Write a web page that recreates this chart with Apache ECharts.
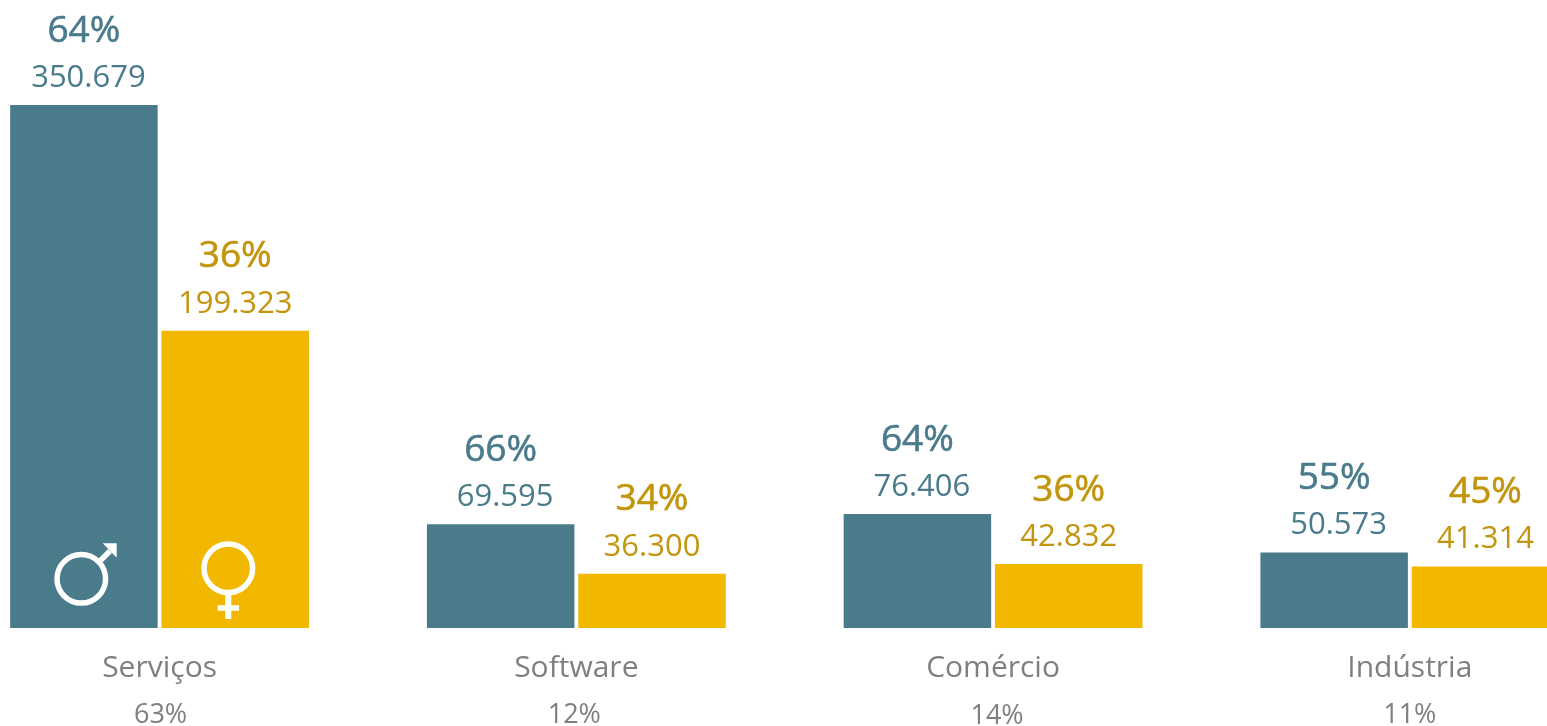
<!DOCTYPE html>
<html><head><meta charset="utf-8">
<style>html,body{margin:0;padding:0;background:#fff;overflow:hidden}#c{width:1547px;height:726px}</style>
<script src="https://cdn.jsdelivr.net/npm/echarts@6/dist/echarts.min.js"></script>
</head><body><div id="c"></div>
<script>
const categories = ['Serviços','Software','Comércio','Indústria'];
const categoryShares = ['63%','12%','14%','11%'];
const maleValues = [350679,69595,76406,50573];
const femaleValues = [199323,36300,42832,41314];
const malePercents = ['64%','66%','64%','55%'];
const femalePercents = ['36%','34%','36%','45%'];
const TEAL='#4a7b8b', GOLD='#f2b800', GOLDTXT='#c2950c', TEALTXT='#4a7b8b', GREY='#7f7f7f';
const FONT='"Open Sans","Noto Sans",sans-serif';
const fmt=v=>String(v).replace(/\B(?=(\d{3})+$)/g,'.');
function lab(color,pcts,valuePad){return {show:true,position:'top',distance:6,align:'center',
  formatter:p=>`{p|${pcts[p.dataIndex]}}\n{v|${fmt(p.value)}}`,
  rich:{p:{fontFamily:FONT,fontSize:37,fontWeight:500,color,textBorderColor:color,textBorderWidth:0.6,lineHeight:52,align:'center'},
        v:{fontFamily:FONT,fontSize:31,fontWeight:400,color,lineHeight:42,align:'center',padding:[0,0,0,valuePad]}}};}
const chart=echarts.init(document.getElementById('c'),null,{renderer:'canvas'});
const W={stroke:'#fff',fill:null,lineWidth:5.5};
const shareStyle={fontFamily:FONT,fontSize:27,color:GREY,lineHeight:46,align:'center'};
chart.setOption({animation:false,backgroundColor:'#fff',
 grid:{left:-48.8,top:0,width:1667,height:628,outerBoundsMode:'none',containLabel:false},
 xAxis:{type:'category',data:categories,axisLine:{show:false},axisTick:{show:false},
   axisLabel:{interval:0,margin:16,
     formatter:(v,i)=>`{c|${v}}\n{s${i}|${categoryShares[i]}}`,
     rich:{c:{fontFamily:FONT,fontSize:30,color:GREY,lineHeight:48,align:'center'},
           s0:{...shareStyle,padding:[0,0,0,2]},
           s1:{...shareStyle,padding:[0,4,0,0]},
           s2:{...shareStyle,padding:[2,0,0,8]},
           s3:{...shareStyle}}}},
 yAxis:{type:'value',min:0,max:421080,show:false,splitLine:{show:false}},
 series:[
  {name:'Homens',type:'bar',data:maleValues,barWidth:147.5,barGap:'2.6%',itemStyle:{color:TEAL},label:lab(TEALTXT,malePercents,9)},
  {name:'Mulheres',type:'bar',data:femaleValues,barWidth:147.5,itemStyle:{color:GOLD},label:lab(GOLDTXT,femalePercents,0)}
 ],
 graphic:[
  {type:'circle',shape:{cx:81.3,cy:578.8,r:24.3},style:W,z:10},
  {type:'line',shape:{x1:100,y1:561,x2:110,y2:551},style:{stroke:'#fff',lineWidth:5.5},z:10},
  {type:'polygon',shape:{points:[[102.7,543.3],[116.7,543.3],[116.7,557.7]]},style:{fill:'#fff'},z:10},
  {type:'circle',shape:{cx:228.3,cy:568.3,r:24.3},style:W,z:10},
  {type:'line',shape:{x1:228.3,y1:594,x2:228.3,y2:619},style:{stroke:'#fff',lineWidth:6},z:10},
  {type:'line',shape:{x1:217.7,y1:608,x2:239,y2:608},style:{stroke:'#fff',lineWidth:5.5},z:10}
 ]
});
</script></body></html>
